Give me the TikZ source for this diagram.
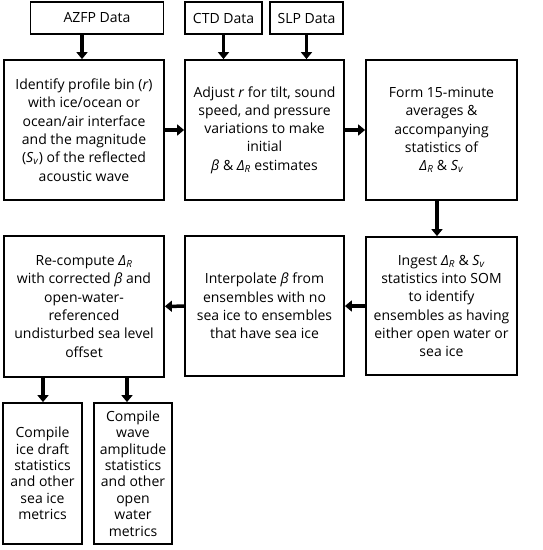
\documentclass[tikz,border=0pt]{standalone}
\usepackage{fontspec}
\setmainfont{Open Sans}
\usetikzlibrary{positioning}
\usetikzlibrary{arrows.meta}

\newcommand{\DR}{\textit{Δ}\textsubscript{\textit{R}}}
\newcommand{\Sv}{\textit{S}\textsubscript{\textit{v}}}
\newcommand{\bt}{\textit{β}}

\begin{document}
\begin{tikzpicture}
    [
    x=1pt, y=1pt,
    font=\fontsize{14}{18.3}\selectfont,
    every node/.style={draw, rectangle, line width=1.8pt, align=center, inner sep=0pt},
    databox/.style={minimum height=32pt},
    stepbox/.style={minimum width=160pt, minimum height=140pt},
    endbox/.style={minimum width=79pt, minimum height=141pt, font=\fontsize{14}{16.4}\selectfont},
    flow/.style={line width=3.5pt, -{Triangle[length=7pt,width=11pt]}},
    ]

    \useasboundingbox (0,0) rectangle (543,-550);

    % inputs
    \node[databox, minimum width=133pt] (azfp) at (97,-18) {AZFP Data};
    \node[databox, minimum width=77pt] (ctd) at (223.5,-18) {CTD Data};
    \node[databox, minimum width=73pt] (slp) at (306.5,-18) {SLP Data};

    % first row
    \node[stepbox] (identify) at (84,-130) {Identify profile bin (\textit{r})\\with ice/ocean or\\ocean/air interface\\and the magnitude\\(\Sv) of the reflected\\acoustic wave};
    \node[stepbox, minimum width=159pt] (adjust) at (264.5,-130) {Adjust \textit{r} for tilt, sound\\speed, and pressure\\variations to make\\initial\\\bt{} \& \DR{} estimates};
    \node[stepbox, minimum width=151pt] (average) at (441.5,-130) {Form 15-minute\\averages \&\\accompanying\\statistics of\\\DR{} \& \Sv};

    % second row
    \node[stepbox, minimum width=151pt, minimum height=138pt] (ingest) at (441.5,-306) {Ingest \DR{} \& \Sv\\statistics into SOM\\to identify\\ensembles as having\\either open water or\\sea ice};
    \node[stepbox, minimum width=159pt] (interp) at (264.5,-306) {Interpolate \bt{} from\\ensembles with no\\sea ice to ensembles\\that have sea ice};
    \node[stepbox, minimum height=141pt] (recompute) at (84,-306.5) {Re-compute \DR\\with corrected \bt{} and\\open-water-\\referenced\\undisturbed sea level\\offset};

    % outputs
    \node[endbox] (icedraft) at (42.5,-473.5) {Compile\\ice draft\\statistics\\and other\\sea ice\\metrics};
    \node[endbox, minimum width=78pt] (wave) at (133,-473.5) {Compile\\wave\\amplitude\\statistics\\and other\\open\\water\\metrics};

    % connectors
    \draw[flow] (azfp.south -| 82,0) -- (identify.north -| 82,0);
    \draw[flow] (ctd) -- (ctd |- adjust.north);
    \draw[flow] (slp) -- (slp |- adjust.north);
    \draw[flow] (identify) -- (adjust);
    \draw[flow] (adjust) -- (average);
    \draw[flow] (average.south -| 437,0) -- (ingest.north -| 437,0);
    \draw[flow] (ingest) -- (interp);
    \draw[flow] (interp) -- (recompute);
    \draw[flow] (recompute.south -| 43,0) -- (icedraft.north -| 43,0);
    \draw[flow] (recompute.south -| 127,0) -- (wave.north -| 127,0);
\end{tikzpicture}
\end{document}
